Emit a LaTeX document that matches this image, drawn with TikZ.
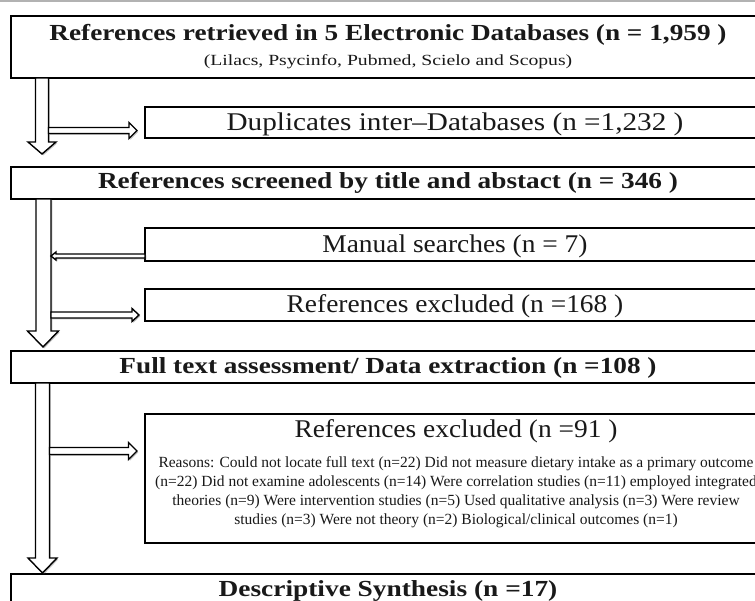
\documentclass[tikz,border=0pt]{standalone}
\usepackage{graphicx}
\usepackage{fontspec}
\setmainfont{Liberation Serif}
\usetikzlibrary{shadows}
\tikzset{
  box/.style={draw=black, line width=1.6pt, fill=white, inner sep=0pt},
  hollow/.style={draw=black, line width=1.4pt, fill=white, line join=miter,
    drop shadow={shadow xshift=1.3pt, shadow yshift=-1.3pt, opacity=0.35, fill=black!70}},
  bigbold/.style={font=\fontsize{23}{26}\selectfont\bfseries, inner sep=0pt, anchor=base, text=black!90},
  bigreg/.style={font=\fontsize{25.5}{29}\selectfont, inner sep=0pt, anchor=base, text=black!90},
  subreg/.style={font=\fontsize{15.5}{18}\selectfont, inner sep=0pt, anchor=base, text=black!90},
  smallreg/.style={font=\fontsize{15.5}{19}\selectfont, inner sep=0pt, anchor=base, text=black!90},
}
\begin{document}
\begin{tikzpicture}[x=1pt,y=-1pt]
\useasboundingbox (0,0) rectangle (755,600);
\clip (0,0) rectangle (755,600);
\fill[white] (0,0) rectangle (755,600);
\draw[black!30, line width=1.2pt] (0,1) -- (755,1);

% ---------- boxes ----------
\node[box, minimum width=754pt, minimum height=62pt] (b1) at (388,47) {};
\node[bigbold] (t1) at (388,40) {\scalebox{1.185}[1]{References retrieved in 5 Electronic Databases (n = 1,959 )}};
\node[subreg] (t1s) at (388,65) {\scalebox{1.27}[1]{(Lilacs, Psycinfo, Pubmed, Scielo and Scopus)}};

\node[box, minimum width=620pt, minimum height=31pt] (b2) at (455,122.5) {};
\node[bigreg] (t2) at (455,130) {\scalebox{1.145}[1]{Duplicates inter–Databases (n =1,232 )}};

\node[box, minimum width=754pt, minimum height=32pt] (b3) at (388,183) {};
\node[bigbold] (t3) at (388,188) {\scalebox{1.185}[1]{References screened by title and abstact (n = 346 )}};

\node[box, minimum width=620pt, minimum height=33pt] (b4) at (455,244.5) {};
\node[bigreg] (t4) at (455,252) {\scalebox{1.075}[1]{Manual searches (n = 7)}};

\node[box, minimum width=620pt, minimum height=32pt] (b5) at (455,305) {};
\node[bigreg] (t5) at (455,312) {\scalebox{1.075}[1]{References excluded (n =168 )}};

\node[box, minimum width=754pt, minimum height=32pt] (b6) at (388,367) {};
\node[bigbold] (t6) at (388,373) {\scalebox{1.185}[1]{Full text assessment/ Data extraction (n =108 )}};

\node[box, minimum width=620pt, minimum height=129pt] (b7) at (455,478.5) {};
\node[bigreg] (t7) at (456,437) {\scalebox{1.075}[1]{References excluded (n =91 )}};
\node[smallreg] (r1) at (456,467) {Reasons: Could not locate full text (n=22) Did not measure dietary intake as a primary outcome};
\node[smallreg] (r2) at (456,486) {(n=22) Did not examine adolescents (n=14) Were correlation studies (n=11) employed integrated};
\node[smallreg] (r3) at (456,505) {theories (n=9) Were intervention studies (n=5) Used qualitative analysis (n=3) Were review};
\node[smallreg] (r4) at (456,524) {studies (n=3) Were not theory (n=2) Biological/clinical outcomes (n=1)};

\node[box, minimum width=754pt, minimum height=60pt] (b8) at (388,604) {};
\node[bigbold] (t8) at (388,596) {\scalebox{1.19}[1]{Descriptive Synthesis (n =17)}};

% ---------- hollow arrows ----------
% arrow 1 (b1 -> b3) with branch to b2
\path[hollow] (35.5,78) -- (48.5,78) -- (48.5,142) -- (56,142) -- (42,154) -- (28,142) -- (35.5,142) -- cycle;
\path[hollow] (48.5,127.5) -- (129,127.5) -- (129,122.5) -- (137,130.5) -- (129,138.5) -- (129,133.5) -- (48.5,133.5) -- cycle;

% arrow 2 (b3 -> b6) with branches
\path[hollow] (36,199) -- (51,199) -- (51,331) -- (58.5,331) -- (43,347) -- (27.5,331) -- (36,331) -- cycle;
\path[hollow] (145,254) -- (56,254) -- (56,252) -- (51,256) -- (56,260) -- (56,258) -- (145,258) -- cycle;
\path[hollow] (51,312) -- (132,312) -- (132,308.5) -- (139,315) -- (132,321.5) -- (132,318) -- (51,318) -- cycle;

% arrow 3 (b6 -> b8) with branch to b7
\path[hollow] (35.5,383) -- (49.5,383) -- (49.5,558) -- (57,558) -- (42.5,573) -- (28,558) -- (35.5,558) -- cycle;
\path[hollow] (49.5,447.5) -- (128.5,447.5) -- (128.5,442.5) -- (137,451) -- (128.5,459.5) -- (128.5,454.5) -- (49.5,454.5) -- cycle;
\end{tikzpicture}
\end{document}
